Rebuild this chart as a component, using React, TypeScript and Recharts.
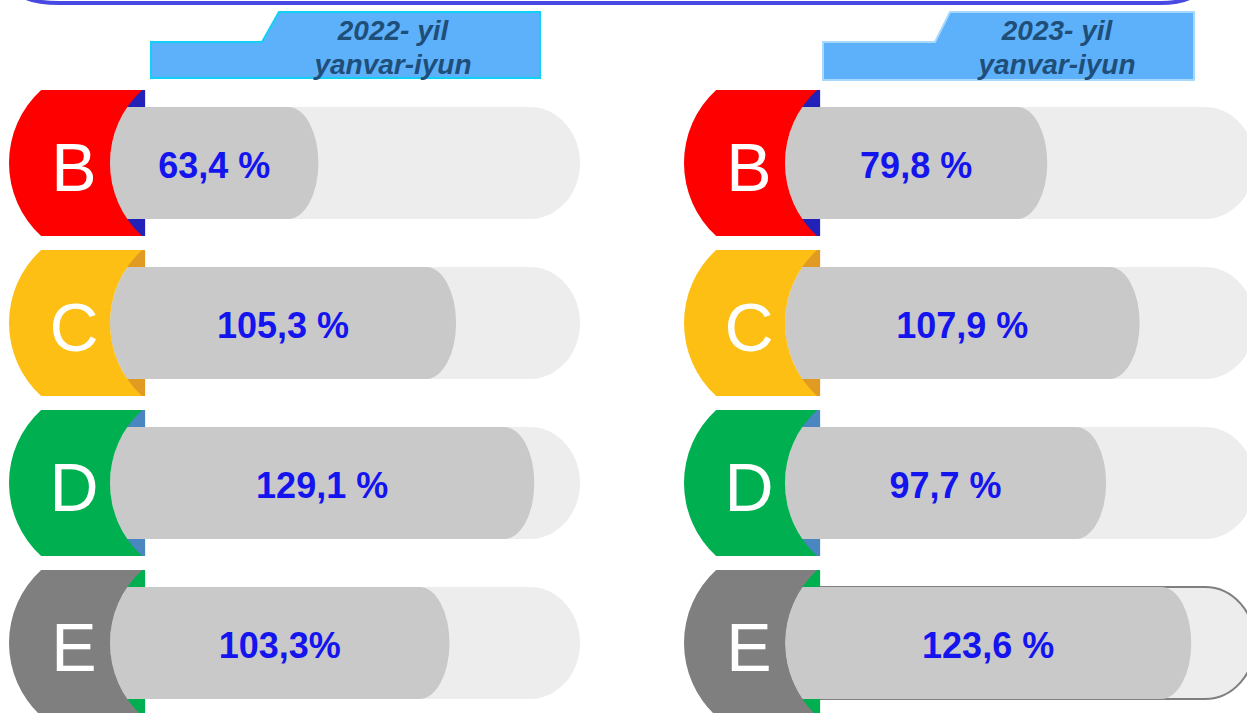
import React from "react";
import { Bar, BarChart, LabelList, XAxis, YAxis } from "recharts";

const grades = ["B", "C", "D", "E"];
const values2022 = [63.4, 105.3, 129.1, 103.3];
const values2023 = [79.8, 107.9, 97.7, 123.6];
const labels2022 = ["63,4 %", "105,3 %", "129,1 %", "103,3%"];
const labels2023 = ["79,8 %", "107,9 %", "97,7 %", "123,6 %"];
const periodYears = ["2022- yil", "2023- yil"];
const periodMonths = ["yanvar-iyun", "yanvar-iyun"];
const scaleMax = 143;

const badgeFill: Record<string, string> = {
  B: "#FF0000",
  C: "#FDBF14",
  D: "#00B050",
  E: "#7F7F7F",
};
const badgeAccent: Record<string, string> = {
  B: "#2222B8",
  C: "#E29B22",
  D: "#4A86C0",
  E: "#00B050",
};

const FONT = "'Liberation Sans', Arial, sans-serif";
const AXIS_W = 110;
const ARC_R = 99;
const CHART_W = 580;
const CHART_H = 640;

function bulge(h: number) {
  return ARC_R - Math.sqrt(ARC_R * ARC_R - (h / 2) * (h / 2));
}

function pillPath(x: number, y: number, w: number, h: number, capRx: number) {
  const s = bulge(h);
  const right = x + w - capRx;
  return `M${x + s},${y} L${right},${y} A${capRx},${h / 2} 0 0 1 ${right},${y + h} L${x + s},${y + h} A${ARC_R},${ARC_R} 0 0 1 ${x + s},${y} Z`;
}

function ValueBar(props: any) {
  const { x, y, width, height } = props;
  if (!width || width <= 0) return null;
  return <path d={pillPath(x, y, width, height, 30)} fill="#C9C9C9" />;
}

function Track(props: any) {
  const { x, y, width, height, index, outlined } = props;
  const isOutlined = outlined === index;
  return (
    <path
      d={pillPath(x, y, width, height, 50)}
      fill="#EDEDED"
      stroke={isOutlined ? "#7F7F7F" : "none"}
      strokeWidth={isOutlined ? 2 : 0}
    />
  );
}

function GradeBadge(props: any) {
  const { y, payload } = props;
  const grade = String(payload?.value ?? "");
  const cy = y;
  const px = AXIS_W;
  const rcx = px + ARC_R;
  const lcx = rcx - 101;
  const half = 73;
  const dx = Math.sqrt(ARC_R * ARC_R - half * half);
  const barHalf = 56;
  const s = bulge(barHalf * 2);
  const xr = rcx - dx + 3;
  return (
    <g>
      <polygon
        points={`${rcx - dx - 2},${cy - half} ${xr},${cy - half} ${xr},${cy - barHalf} ${px + s - 2},${cy - barHalf}`}
        fill={badgeAccent[grade]}
      />
      <polygon
        points={`${rcx - dx - 2},${cy + half} ${xr},${cy + half} ${xr},${cy + barHalf} ${px + s - 2},${cy + barHalf}`}
        fill={badgeAccent[grade]}
      />
      <path
        d={`M${lcx - dx},${cy - half} L${rcx - dx},${cy - half} A${ARC_R},${ARC_R} 0 0 0 ${rcx - dx},${cy + half} L${lcx - dx},${cy + half} A${ARC_R},${ARC_R} 0 0 1 ${lcx - dx},${cy - half} Z`}
        fill={badgeFill[grade]}
      />
      <text
        x={px - 36}
        y={cy + 4}
        textAnchor="middle"
        dominantBaseline="central"
        fill="#FFFFFF"
        fontSize={68}
        fontFamily={FONT}
      >
        {grade}
      </text>
    </g>
  );
}

function ValueLabel(props: any) {
  const { x, y, width, height, value } = props;
  return (
    <text
      x={x + width / 2}
      y={y + height / 2 + 2}
      textAnchor="middle"
      dominantBaseline="central"
      fill="#1414EE"
      fontSize={36}
      fontWeight="bold"
      fontFamily={FONT}
    >
      {value}
    </text>
  );
}

function Panel({
  values,
  labels,
  left,
  outlined,
}: {
  values: number[];
  labels: string[];
  left: number;
  outlined?: number;
}) {
  const data = grades.map((g, i) => ({ grade: g, value: values[i], label: labels[i] }));
  return (
    <div style={{ position: "absolute", left, top: 83 }}>
      <BarChart
        width={CHART_W}
        height={CHART_H}
        data={data}
        layout="vertical"
        margin={{ top: 0, right: 0, bottom: 0, left: 0 }}
        style={{ overflow: "visible" }}
      >
        <XAxis type="number" domain={[0, scaleMax]} hide />
        <YAxis
          type="category"
          dataKey="grade"
          width={AXIS_W}
          axisLine={false}
          tickLine={false}
          tick={(p: any) => <GradeBadge {...p} />}
        />
        <Bar
          dataKey="value"
          barSize={112}
          isAnimationActive={false}
          background={(p: any) => <Track {...p} outlined={outlined} />}
          shape={(p: any) => <ValueBar {...p} />}
        >
          <LabelList dataKey="label" content={(p: any) => <ValueLabel {...p} />} />
        </Bar>
      </BarChart>
    </div>
  );
}

function Header({ idx, points, cx, stroke }: { idx: number; points: string; cx: number; stroke: string }) {
  return (
    <g>
      <polygon points={points} fill="#5DB1FB" stroke={stroke} strokeWidth={2} />
      <text
        x={cx}
        y={30}
        textAnchor="middle"
        dominantBaseline="central"
        fill="#1F4E79"
        fontSize={28}
        fontWeight="bold"
        fontStyle="italic"
        fontFamily={FONT}
      >
        {periodYears[idx]}
      </text>
      <text
        x={cx}
        y={64}
        textAnchor="middle"
        dominantBaseline="central"
        fill="#1F4E79"
        fontSize={28}
        fontWeight="bold"
        fontStyle="italic"
        fontFamily={FONT}
      >
        {periodMonths[idx]}
      </text>
    </g>
  );
}

export default function App() {
  return (
    <div
      style={{
        position: "absolute",
        left: 0,
        top: 0,
        width: 1247,
        height: 713,
        overflow: "hidden",
        background: "#FFFFFF",
      }}
    >
      <Panel values={values2022} labels={labels2022} left={0} />
      <Panel values={values2023} labels={labels2023} left={675} outlined={3} />
      <svg
        width={1247}
        height={90}
        style={{ position: "absolute", left: 0, top: 0 }}
      >
        <path
          d="M18,-8 Q26,3 60,3 L1160,3 Q1188,3 1198,-8"
          fill="none"
          stroke="#4848E2"
          strokeWidth={4}
        />
        <Header
          idx={0}
          points="151,42 262,42 279,12 540,12 540,78 151,78"
          cx={393}
          stroke="#10D0F6"
        />
        <Header
          idx={1}
          points="823,42 935,42 950,12 1194,12 1194,80 823,80"
          cx={1057}
          stroke="#A8D8FC"
        />
      </svg>
    </div>
  );
}
